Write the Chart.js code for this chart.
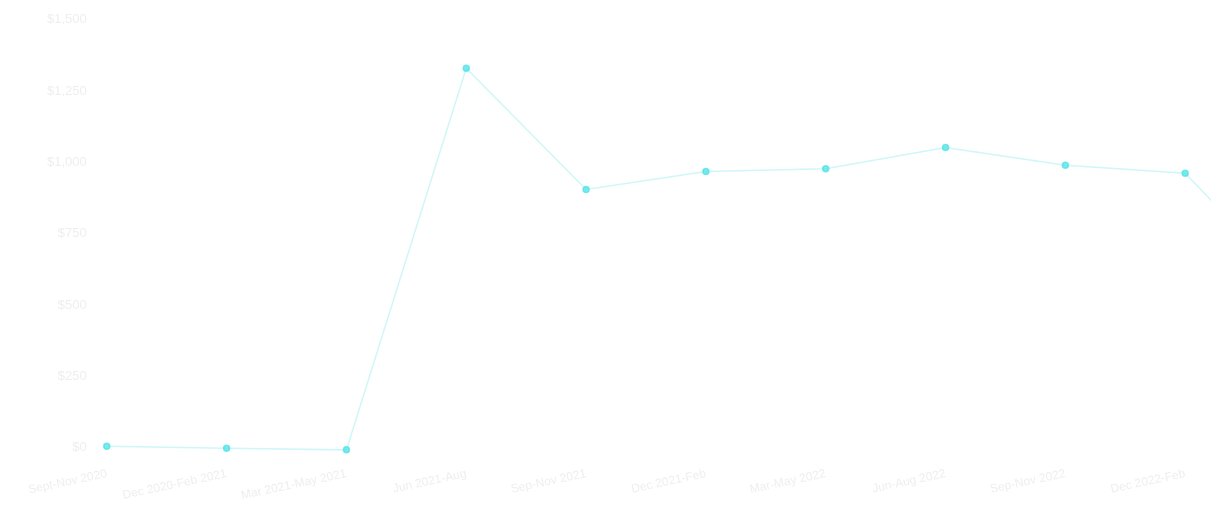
<!DOCTYPE html>
<html>
<head>
<meta charset="utf-8">
<script src="https://cdn.jsdelivr.net/npm/chart.js@4/dist/chart.umd.min.js"></script>
<style>
  html, body { margin: 0; padding: 0; background: #ffffff; overflow: hidden; }
  #wrap { position: relative; width: 1319px; height: 507px; }
  canvas { filter: blur(0.7px); }
</style>
</head>
<body>
<div id="wrap"><canvas id="c"></canvas></div>
<script>
const categories = [
  "Sept-Nov 2020",
  "Dec 2020-Feb 2021",
  "Mar 2021-May 2021",
  "Jun 2021-Aug",
  "Sep-Nov 2021",
  "Dec 2021-Feb",
  "Mar-May 2022",
  "Jun-Aug 2022",
  "Sep-Nov 2022",
  "Dec 2022-Feb",
  "Mar-May 2023"
];
const seriesValues = [5, -2, -8, 1330, 905, 968, 978, 1052, 990, 962, 524];
const yTicks = [0, 250, 500, 750, 1000, 1250, 1500];

const textColor = "rgba(200,205,210,0.35)";

new Chart(document.getElementById("c"), {
  type: "line",
  data: {
    labels: categories,
    datasets: [{
      data: seriesValues,
      borderColor: "rgba(120,230,235,0.35)",
      backgroundColor: "rgba(70,225,230,0.7)",
      pointBackgroundColor: "rgba(70,225,230,0.7)",
      pointBorderColor: "rgba(70,225,230,0.7)",
      pointRadius: 3,
      borderWidth: 1.5,
      tension: 0,
      clip: false
    }]
  },
  options: {
    responsive: true,
    maintainAspectRatio: false,
    animation: false,
    layout: { padding: { left: 35, right: 10, top: 3, bottom: -7 } },
    plugins: { legend: { display: false }, tooltip: { enabled: false } },
    scales: {
      x: {
        offset: false,
        grid: { display: false },
        border: { display: false },
        ticks: {
          color: textColor,
          font: { size: 12 },
          minRotation: 12,
          maxRotation: 12,
          autoSkip: false,
          padding: 11
        }
      },
      y: {
        min: yTicks[0],
        max: yTicks[yTicks.length - 1],
        afterBuildTicks: (axis) => { axis.ticks = yTicks.map(v => ({ value: v })); },
        grid: { display: false },
        border: { display: false },
        ticks: {
          color: textColor,
          font: { size: 13 },
          padding: 12,
          callback: (v) => "$" + Number(v).toLocaleString("en-US")
        }
      }
    }
  }
});
</script>
</body>
</html>
